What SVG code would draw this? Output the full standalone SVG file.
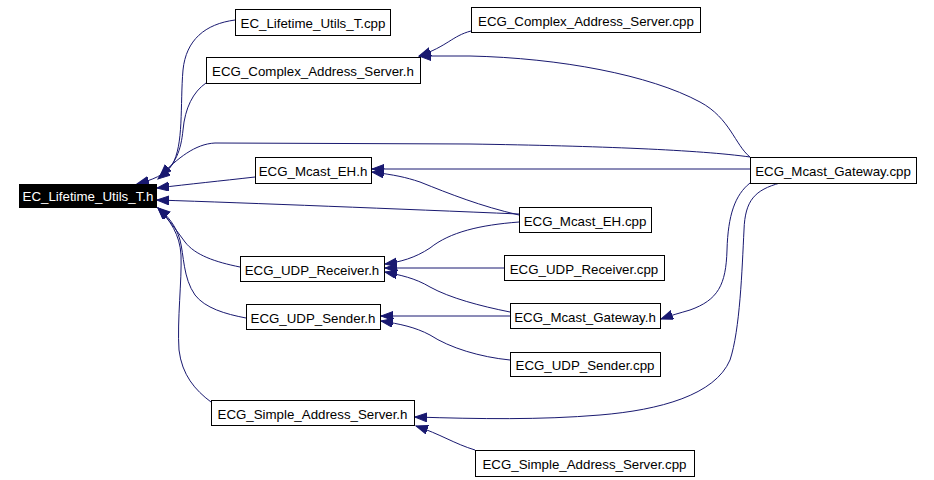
<svg xmlns="http://www.w3.org/2000/svg" width="934" height="480" viewBox="0 0 934 480">
<style>
.n rect{fill:#fff;stroke:#000;stroke-width:1}
.n text{font-family:"Liberation Sans",Arial,sans-serif;font-size:13.3px;text-anchor:middle;fill:#000}
#n0 rect{fill:#000}
#n0 text{fill:#fff}
.e path{fill:none;stroke:#191970;stroke-width:1;marker-end:url(#a)}
</style>
<defs>
<marker id="a" markerWidth="13" markerHeight="10" refX="12" refY="4.5" orient="auto" markerUnits="userSpaceOnUse">
<path d="M0,0 L12,4.5 L0,9 z" fill="#191970" stroke="#191970" stroke-width="1"/>
</marker>
</defs>
<rect width="934" height="480" fill="#fff"/>
<g id="edges" class="e">
<path d="M235,20 C205,24 186,40 183,70 C180,105 184,145 172,165 C165,175 152,180 137,184"/>
<path d="M206,83 C193,92 185,108 183,130 C181,150 176,165 158,179"/>
<path d="M750,157 C700,150 600,146 470,144 L215,143 C195,144 178,158 160,176"/>
<path d="M255,177 C220,181 190,184 157,188"/>
<path d="M750,169 L372,169"/>
<path d="M750,157 C735,145 730,118 700,102 C650,75 560,58 470,56 L419,56"/>
<path d="M471,31 C452,36 448,46 419,56"/>
<path d="M519,215 C480,206 450,194 420,182 C405,177 395,175 372,172"/>
<path d="M519,214 C400,209 250,203 157,200"/>
<path d="M519,222 C480,225 450,232 430,248 C415,258 400,262 385,264"/>
<path d="M504,268 L385,268"/>
<path d="M510,312 C480,306 450,298 430,287 C415,278 400,275 385,272"/>
<path d="M510,316 L381,316"/>
<path d="M510,360 C480,357 450,348 430,335 C415,327 400,324 381,321"/>
<path d="M750,183 C735,195 728,215 727,250 C726,285 718,300 690,310 C680,313 672,315 661,319"/>
<path d="M780,183 C755,190 745,200 744,230 C742,270 740,330 730,360 C715,395 660,410 600,415 C540,420 480,419 415,417"/>
<path d="M475,450 C455,444 440,434 416,426"/>
<path d="M240,267 C215,262 195,255 185,242 C176,230 168,218 158,208"/>
<path d="M246,318 C225,314 205,308 195,295 C183,278 184,255 180,240 C176,226 168,216 158,208"/>
<path d="M211,402 C195,390 182,375 179,350 C177,320 182,280 181,255 C180,235 170,220 158,208"/>
</g>
<g id="n0" class="n"><rect x="19.5" y="184.5" width="137" height="23"/><text x="88" y="201">EC_Lifetime_Utils_T.h</text></g>
<g id="n1" class="n"><rect x="235.5" y="9.5" width="155" height="26"/><text x="313" y="28">EC_Lifetime_Utils_T.cpp</text></g>
<g id="n2" class="n"><rect x="206.5" y="57.5" width="214" height="26"/><text x="313" y="76">ECG_Complex_Address_Server.h</text></g>
<g id="n3" class="n"><rect x="471.5" y="7.5" width="229" height="25"/><text x="586" y="25.5">ECG_Complex_Address_Server.cpp</text></g>
<g id="n4" class="n"><rect x="750.5" y="157.5" width="166" height="26"/><text x="833" y="176">ECG_Mcast_Gateway.cpp</text></g>
<g id="n5" class="n"><rect x="255.5" y="157.5" width="116" height="26"/><text x="313" y="176">ECG_Mcast_EH.h</text></g>
<g id="n6" class="n"><rect x="519.5" y="207.5" width="132" height="25"/><text x="585" y="225.5">ECG_Mcast_EH.cpp</text></g>
<g id="n7" class="n"><rect x="240.5" y="256.5" width="144" height="25"/><text x="312" y="274.5">ECG_UDP_Receiver.h</text></g>
<g id="n8" class="n"><rect x="504.5" y="255.5" width="160" height="25"/><text x="584" y="273.5">ECG_UDP_Receiver.cpp</text></g>
<g id="n9" class="n"><rect x="246.5" y="304.5" width="134" height="25"/><text x="313" y="322.5">ECG_UDP_Sender.h</text></g>
<g id="n10" class="n"><rect x="510.5" y="303.5" width="150" height="25"/><text x="585" y="321.5">ECG_Mcast_Gateway.h</text></g>
<g id="n11" class="n"><rect x="510.5" y="352.5" width="150" height="24"/><text x="585" y="370">ECG_UDP_Sender.cpp</text></g>
<g id="n12" class="n"><rect x="211.5" y="400.5" width="203" height="25"/><text x="312.5" y="418.5">ECG_Simple_Address_Server.h</text></g>
<g id="n13" class="n"><rect x="475.5" y="450.5" width="219" height="26"/><text x="584.5" y="469">ECG_Simple_Address_Server.cpp</text></g>
</svg>
